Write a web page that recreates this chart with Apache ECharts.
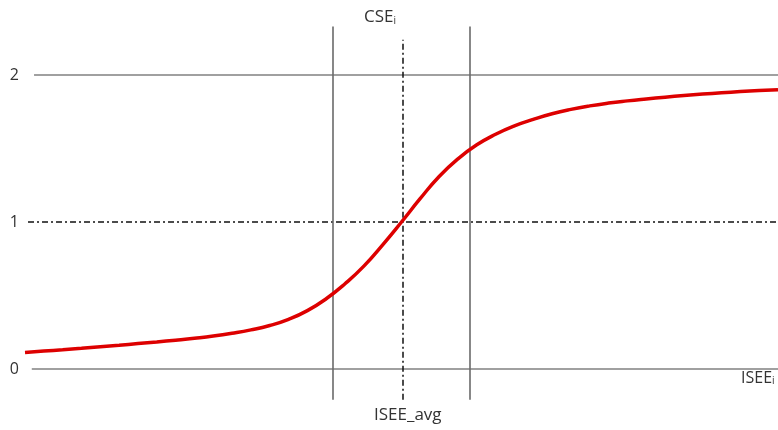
<!DOCTYPE html>
<html>
<head>
<meta charset="utf-8">
<script src="https://cdn.jsdelivr.net/npm/echarts@6/dist/echarts.min.js"></script>
<style>html,body{margin:0;padding:0;background:#fff;}#c{width:778px;height:430px;}</style>
</head>
<body>
<div id="c"></div>
<script>
// Curve samples (x in abstract ISEE units 0..100, step 2.5)
var curveX = [0, 2.5, 5, 7.5, 10, 12.5, 15, 17.5, 20, 22.5, 25, 27.5, 30, 32.5, 35, 37.5, 40, 42.5, 45, 47.5,
              50, 52.5, 55, 57.5, 60, 62.5, 65, 67.5, 70, 72.5, 75, 77.5, 80, 82.5, 85, 87.5, 90, 92.5, 95, 97.5, 100];
var curveY = [0.113, 0.122, 0.131, 0.141, 0.152, 0.162, 0.173, 0.184, 0.196, 0.209, 0.224, 0.243, 0.266, 0.296, 0.338, 0.397, 0.478, 0.580, 0.700, 0.845,
              1.000, 1.160, 1.310, 1.430, 1.525, 1.597, 1.654, 1.698, 1.736, 1.766, 1.790, 1.809, 1.824, 1.837, 1.849, 1.860, 1.870, 1.879, 1.887, 1.894, 1.900];
// Reference lines
var cseLow = 40.9, iseeAvg = 50.1, cseHigh = 59.1;
var yTicks = [0, 1, 2];
var labelTop = 'CSE', labelBottom = 'ISEE_avg', labelRight = 'ISEE';

var font = 'Open Sans';
var curve = curveX.map(function (x, i) { return [x, curveY[i]]; });

var grey = { color: '#808080', width: 1.5, type: 'solid' };
var greyV = { color: '#6a6a6a', width: 1.6, type: 'solid' };
var dashDot = { color: '#111', width: 1.5, type: [6, 3, 2, 3] };

function seg(x1, y1, x2, y2, style) {
  return [{ coord: [x1, y1], lineStyle: style }, { coord: [x2, y2] }];
}

var chart = echarts.init(document.getElementById('c'));
chart.setOption({
  animation: false,
  backgroundColor: '#fff',
  grid: { left: 25, right: 0, top: 1.5, bottom: 24.25 },
  xAxis: {
    type: 'value', min: 0, max: 100,
    show: false
  },
  yAxis: {
    type: 'value', min: -0.25, max: 2.5, interval: 0.25,
    axisLine: { show: false }, axisTick: { show: false }, splitLine: { show: false },
    axisLabel: {
      margin: 6, color: '#333', fontSize: 16, fontFamily: font,
      formatter: function (v) {
        var r = Math.round(v);
        return (Math.abs(v - r) < 1e-6 && yTicks.indexOf(r) >= 0) ? String(r) : '';
      }
    }
  },
  series: [{
    type: 'line',
    data: curve,
    smooth: true,
    showSymbol: false,
    lineStyle: { color: '#dd0000', width: 3.5 },
    z: 5,
    markLine: {
      silent: true, symbol: 'none', label: { show: false },
      data: [
        seg(1.2, 2, 100, 2, grey),
        seg(0.9, 0, 100, 0, grey),
        seg(0.4, 1, 100, 1, dashDot),
        seg(cseLow, -0.21, cseLow, 2.33, greyV),
        seg(cseHigh, -0.21, cseHigh, 2.33, greyV),
        seg(iseeAvg, -0.21, iseeAvg, 2.24, dashDot)
      ]
    }
  }],
  graphic: [
    { type: 'text', left: 364, top: 9, style: {
      text: '{a|' + labelTop + '}{s|i}',
      rich: { a: { fontSize: 17, fontFamily: font, fill: '#333' }, s: { fontSize: 10, fontFamily: font, fill: '#333', padding: [7, 0, 0, 0] } }
    } },
    { type: 'text', left: 374, top: 407, style: {
      text: labelBottom, fontSize: 17, fontFamily: font, fill: '#333'
    } },
    { type: 'text', left: 741, top: 370, style: {
      text: '{a|' + labelRight + '}{s|i}',
      rich: { a: { fontSize: 16, fontFamily: font, fill: '#333' }, s: { fontSize: 10, fontFamily: font, fill: '#333', padding: [6, 0, 0, 0] } }
    } }
  ]
});
</script>
</body>
</html>
